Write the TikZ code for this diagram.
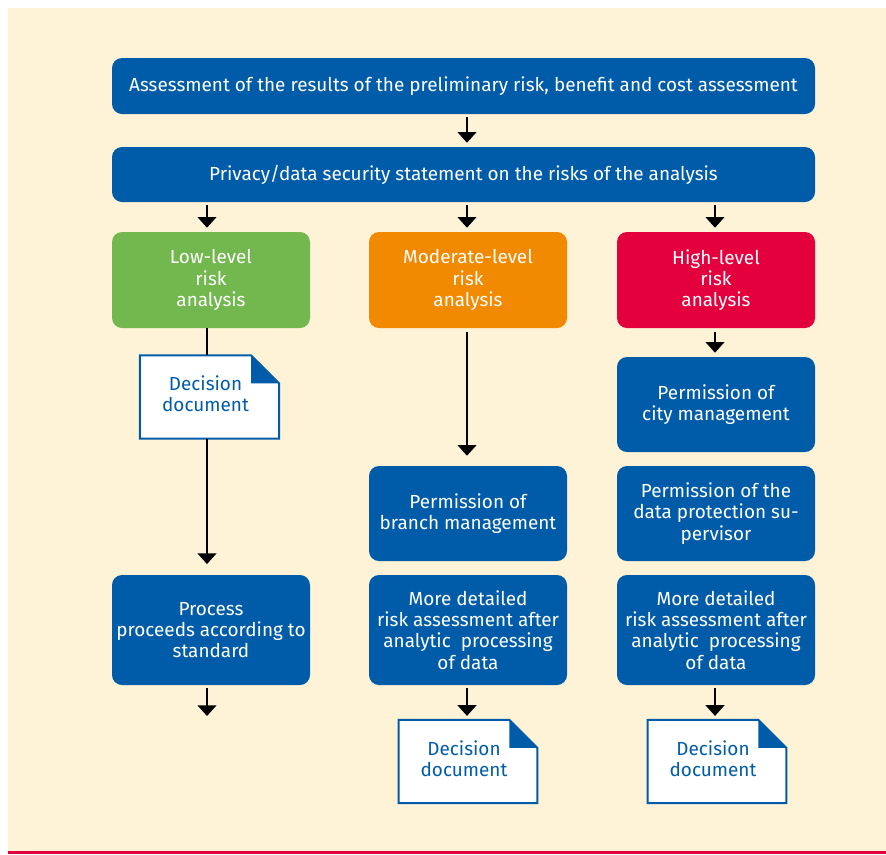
\documentclass[tikz,border=0pt]{standalone}
\usepackage{fontspec}
\setmainfont{Fira Sans}
\usetikzlibrary{arrows.meta,calc}
\definecolor{bgcream}{HTML}{FEF3D7}
\definecolor{flowblue}{HTML}{005CA9}
\definecolor{lowgreen}{HTML}{73B74F}
\definecolor{midorange}{HTML}{F18A00}
\definecolor{highred}{HTML}{E3003D}
\definecolor{rulered}{HTML}{E3003D}
\begin{document}
\begin{tikzpicture}[x=0.75pt,y=-0.75pt,
  every node/.style={font=\fontsize{14.2}{16}\selectfont},
  box/.style={rounded corners=7.5pt, fill=flowblue, text=white, align=center,
    inner sep=0pt, minimum width=148.5pt},
  widebox/.style={box, minimum width=527.25pt},
  levelbox/.style={box, minimum height=72pt},
  docshape/.style={inner sep=0pt, minimum height=62pt},
  doctext/.style={inner sep=0pt, align=center, text=flowblue},
  flow/.style={line width=1.5pt, -{Triangle[width=14pt,length=8pt]}},
  plain/.style={line width=1.5pt}]
% canvas
\useasboundingbox (0,0) rectangle (886,854);
\fill[bgcream] (8,8) rectangle (886,851);
\fill[rulered] (8,851) rectangle (886,854);

% top row
\node[widebox, minimum height=42pt] (assess) at (463.5,86)
  {Assessment of the results of the preliminary risk, benefit and cost assessment};
\node[widebox, minimum height=41.25pt] (privacy) at (463.5,174.5)
  {Privacy/data security statement on the risks of the analysis};

% risk levels
\node[levelbox, fill=lowgreen] (low) at (211,280) {Low-level\\risk\\analysis};
\node[levelbox, fill=midorange] (mid) at (468,280) {Moderate-level\\risk\\analysis};
\node[levelbox, fill=highred] (high) at (716,280) {High-level\\risk\\analysis};

% low column
\node[docshape, minimum width=104pt] (doclow) at (209.5,397) {};
\node[box, minimum height=82.5pt] (process) at (211,630)
  {Process\\proceeds according to\\standard};
\coordinate (lowend) at (207,716);

% moderate column
\node[box, minimum height=71.25pt] (branch) at (468,513.5)
  {Permission of\\branch management};
\node[box, minimum height=82.5pt] (middetail) at (468,630)
  {More detailed\\risk assessment after\\analytic~ processing\\of data};
\node[docshape, minimum width=103.5pt] (docmid) at (468,761.5) {};

% high column
\node[box, minimum height=71.25pt] (city) at (716,404.5)
  {Permission of\\city management};
\node[box, minimum height=71.25pt] (superv) at (716,513.5)
  {Permission of the\\data protection su-\\pervisor};
\node[box, minimum height=82.5pt] (highdetail) at (716,630)
  {More detailed\\risk assessment after\\analytic~ processing\\of data};
\node[docshape, minimum width=103.5pt] (dochigh) at (717,761.5) {};

% folded-corner documents with their captions
\foreach \d in {doclow,docmid,dochigh}{
  \draw[flowblue, line width=1.5pt, fill=white]
    (\d.north west) -- ($(\d.north east)+(-28,0)$) -- ($(\d.north east)+(0,28)$)
    -- (\d.south east) -- (\d.south west) -- cycle;
  \fill[flowblue] ($(\d.north east)+(-28,0)$) -- ($(\d.north east)+(-28,28)$)
    -- ($(\d.north east)+(0,28)$) -- cycle;
  \node[doctext] (\d-text) at ($(\d)+(-4,-3)$) {Decision\\document};
}

% connectors
\draw[flow, shorten <=2.25pt, shorten >=3pt] (assess.south -| 467,0) -- (privacy.north -| 467,0);
\draw[flow, shorten <=2.25pt, shorten >=3pt] (privacy.south -| 207,0) -- (low.north -| 207,0);
\draw[flow, shorten <=2.25pt, shorten >=3pt] (privacy.south -| 467,0) -- (mid.north -| 467,0);
\draw[flow, shorten <=2.25pt, shorten >=3pt] (privacy.south -| 715,0) -- (high.north -| 715,0);

\draw[plain] (low.south -| 207,0) -- (doclow.north -| 207,0);
\draw[flow, shorten >=8pt] (doclow.south -| 207,0) -- (process.north -| 207,0);
\draw[flow, shorten <=2.25pt] (process.south -| 207,0) -- (lowend);

\draw[flow, shorten <=3pt, shorten >=7.5pt] (mid.south -| 467,0) -- (branch.north -| 467,0);
\draw[flow, shorten <=2.25pt, shorten >=3pt] (middetail.south -| 467,0) -- (docmid.north -| 467,0);

\draw[flow, shorten <=3pt, shorten >=3pt] (high.south -| 715,0) -- (city.north -| 715,0);
\draw[flow, shorten <=2.25pt, shorten >=3pt] (highdetail.south -| 715,0) -- (dochigh.north -| 715,0);
\end{tikzpicture}
\end{document}
